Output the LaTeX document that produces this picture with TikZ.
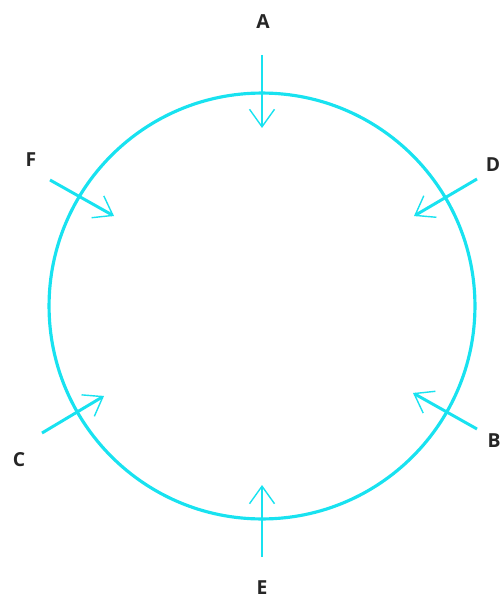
\documentclass[tikz,border=0pt]{standalone}
\usepackage{fontspec}
\setmainfont{Open Sans}
\usetikzlibrary{arrows.meta}

\definecolor{ringcyan}{RGB}{24,226,240}

\tikzset{
    ring/.style={draw=ringcyan, line width=1.8pt},
    force/.style={draw=ringcyan, line width=1.7pt,
        -{Straight Barb[length=3.5mm, width=5mm, line width=0.8pt]}},
    lbl/.style={font=\fontsize{11}{13}\selectfont\bfseries, text=black!85}
}

\begin{document}
\begin{tikzpicture}[x=0.02cm, y=-0.02cm]
        \useasboundingbox (0,0) rectangle (502,601);

        % the ring
        \draw[ring] (262,306) circle[radius=4.26cm];

        % labels
        \node[lbl] (A) at (263,22) {A};
        \node[lbl] (B) at (494,441) {B};
        \node[lbl] (C) at (19,460) {C};
        \node[lbl] (D) at (493,165) {D};
        \node[lbl] (E) at (262,588) {E};
        \node[lbl] (F) at (31,160) {F};

        % tails and heads of the arrows
        \coordinate (A0) at (262,55);  \coordinate (A1) at (262,128);
        \coordinate (B0) at (477,429); \coordinate (B1) at (413,393);
        \coordinate (C0) at (42,433);  \coordinate (C1) at (104,396);
        \coordinate (D0) at (477,179); \coordinate (D1) at (414,216);
        \coordinate (E0) at (262,557); \coordinate (E1) at (262,485);
        \coordinate (F0) at (50,180);  \coordinate (F1) at (114,216);

        % arrows pointing in
        \foreach \p in {A,B,C,D,E,F}
            \draw[force] (\p0) -- (\p1);

    \end{tikzpicture}
\end{document}
